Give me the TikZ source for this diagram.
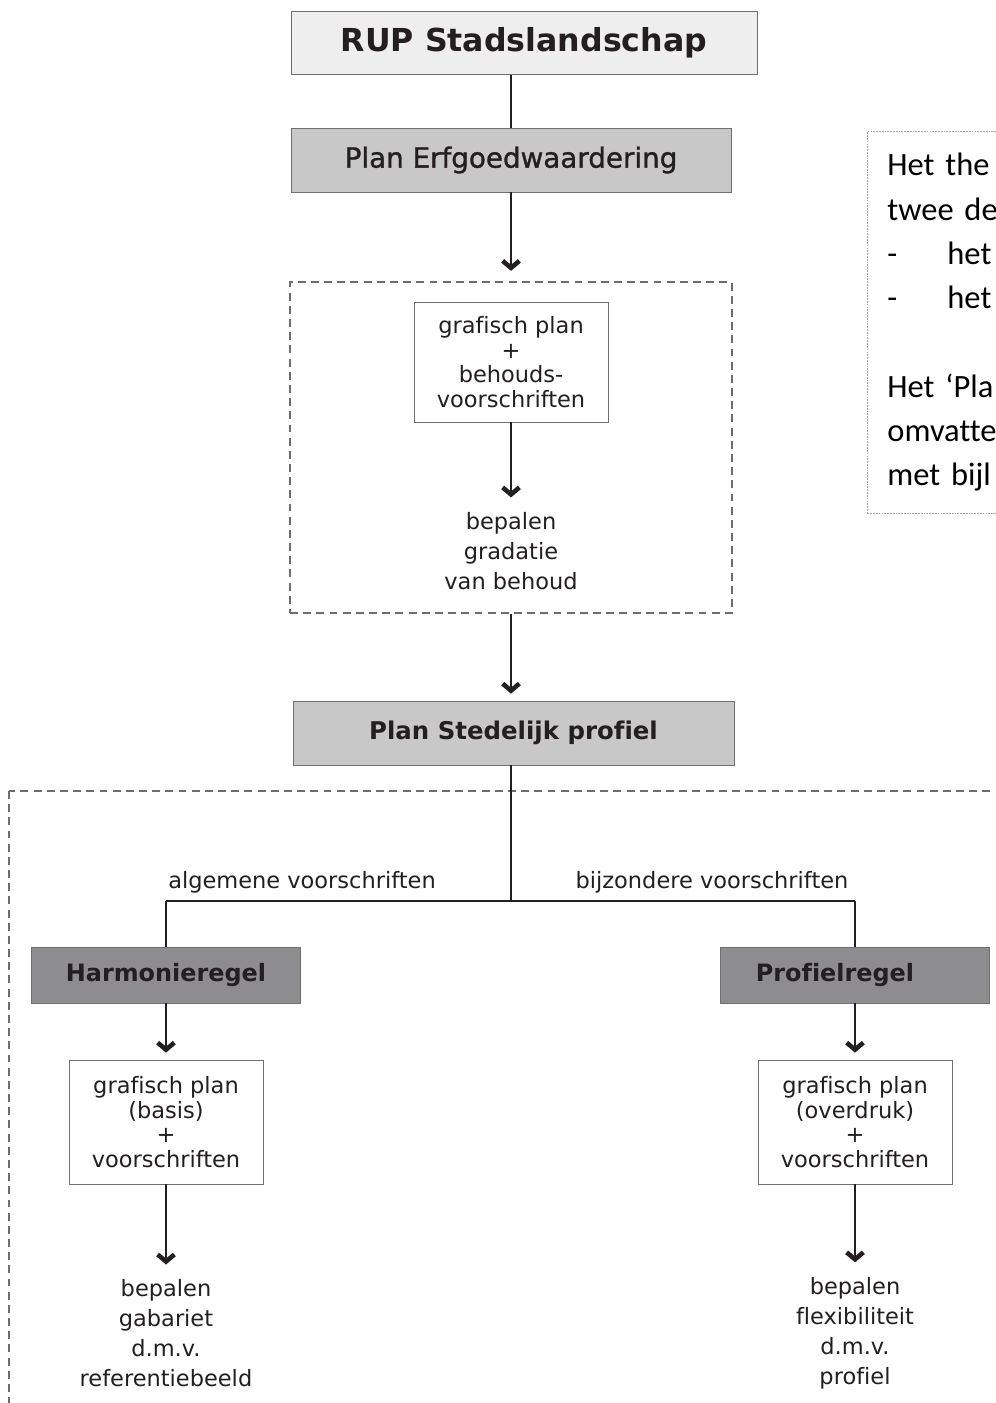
\documentclass[tikz,border=0pt]{standalone}
\usepackage{fontspec}
\setmainfont{DejaVu Sans}[Ligatures=NoCommon]
\newfontfamily\medfont{DejaVu Sans}[Ligatures=NoCommon, FakeBold=1.2]
\newfontfamily\notefont{Carlito}[Ligatures=NoCommon]
\usepackage{xcolor}
\usetikzlibrary{arrows.meta, positioning}

\definecolor{ink}{HTML}{231F20}
\definecolor{boxline}{HTML}{707070}
\definecolor{titlefill}{HTML}{EFEEEF}
\definecolor{planfill}{HTML}{C9C8C9}
\definecolor{rulefill}{HTML}{8D8C8F}
\definecolor{framegray}{HTML}{6D6D6D}
\definecolor{notegray}{HTML}{A6A6A6}

\begin{document}
\begin{tikzpicture}[x=0.02cm, y=-0.02cm,
  titlebox/.style={rectangle, draw=boxline, fill=titlefill, text=ink, minimum width=9.32cm, minimum height=1.26cm, font=\bfseries\fontsize{18}{20}\selectfont},
  planbox/.style={rectangle, draw=boxline, fill=planfill, text=ink, minimum width=8.8cm, minimum height=1.28cm},
  rulebox/.style={rectangle, draw=boxline, fill=rulefill, text=ink, minimum width=5.38cm, minimum height=1.12cm, font=\bfseries\fontsize{13.6}{16}\selectfont},
  docbox/.style={rectangle, draw=boxline, fill=white, text=ink, minimum width=3.88cm, minimum height=2.4cm, align=center, font=\fontsize{12.8}{13.9}\selectfont},
  resulttext/.style={align=center, text=ink, font=\fontsize{12.8}{17}\selectfont},
  branchlabel/.style={text=ink, font=\fontsize{12.8}{15}\selectfont},
  dashframe/.style={draw=framegray, dash pattern=on 4.5pt off 3pt, line width=0.7pt},
  notebox/.style={rectangle, draw=notegray, dash pattern=on 1pt off 0.6pt, line width=0.5pt, text=black, align=left, text width=6cm, inner xsep=0.4cm, minimum height=7.64cm, font=\notefont\fontsize{18.5}{25.2}\selectfont},
  link/.style={draw=ink, line width=1pt},
  branchline/.style={draw=ink, line width=1.6pt},
  arrow/.style={draw=ink, line width=1.6pt, -{Straight Barb[length=4pt,width=9.5pt,line width=2.6pt]}}
]
\useasboundingbox (0,0) rectangle (996,1403);
\clip (0,0) rectangle (996,1403);

% upper column
\node[titlebox] (rup) at (524,43) {RUP Stadslandschap};
\node[planbox, font=\medfont\fontsize{15.8}{18}\selectfont] (erf) at (511,160) {Plan Erfgoedwaardering};
\node[dashframe, minimum width=8.84cm, minimum height=6.62cm] (erfframe) at (511,447.5) {};
\node[docbox] (erfdoc) at (511,362) {grafisch plan\\+\\behouds-\\voorschriften};
\node[resulttext] (erfres) at (511,551) {bepalen\\gradatie\\van behoud};
\node[planbox, minimum width=8.82cm, font=\bfseries\fontsize{13.9}{16}\selectfont] (sted) at (513.5,733) {Plan Stedelijk profiel};

\draw[link] (erf.north) -- (erf.north |- rup.south);
\draw[arrow, shorten >=6pt] (erf.south) -- (erfframe.north);
\draw[arrow, shorten >=5pt] (erfdoc.south) -- (erfres.north);
\draw[arrow, shorten >=4pt] (erfframe.south) -- (erfframe.south |- sted.north);

% lower part
\draw[dashframe] (9,791) rectangle (1030,1440);
\coordinate (split) at (511,901);
\node[rulebox] (harm) at (166,975) {Harmonieregel};
\node[rulebox] (prof) at (855,975) {Profielregel\hspace*{0.8cm}};
\node[branchlabel] (alg) at (302,882) {algemene voorschriften};
\node[branchlabel] (bijz) at (712,882) {bijzondere voorschriften};
\node[docbox, minimum height=2.48cm] (basis) at (166,1122) {grafisch plan\\(basis)\\+\\voorschriften};
\node[docbox, minimum height=2.48cm] (overdruk) at (855,1122) {grafisch plan\\(overdruk)\\+\\voorschriften};
\node[resulttext] (gabariet) at (166,1333) {bepalen\\gabariet\\d.m.v.\\referentiebeeld};
\node[resulttext] (flex) at (855,1333) {bepalen\\flexibiliteit\\d.m.v.\\profiel};

\draw[link] (sted.south -| split) -- (split);
\draw[link] (harm.north) -- (harm.north |- split);
\draw[link] (prof.north) -- (prof.north |- split);
\draw[branchline] (harm.north |- split) -- (prof.north |- split);
\draw[arrow, shorten >=4pt] (harm) -- (basis);
\draw[arrow, shorten >=4pt] (prof) -- (overdruk);
\draw[arrow, shorten >=5pt] (basis) -- (gabariet);
\draw[arrow, shorten >=5pt] (overdruk) -- (flex);

% side note
\node[notebox, anchor=north west] (note) at (867,131) {Het the\\
twee de\\
\makebox[1.2cm][l]{-}het\\
\makebox[1.2cm][l]{-}het\\[25.2pt]
Het ‘Pla\\
omvatte\\
met bijl};
\end{tikzpicture}
\end{document}
